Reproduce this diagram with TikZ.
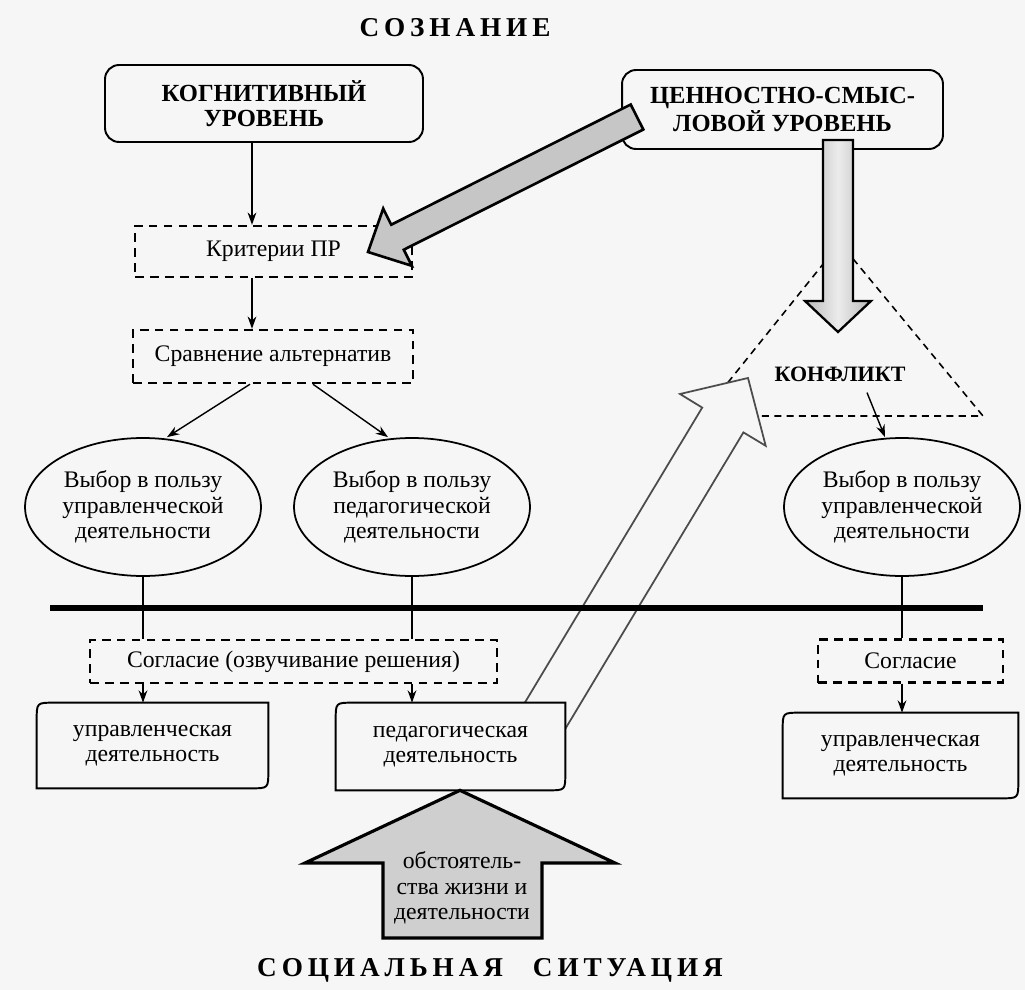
\documentclass[tikz,border=0pt]{standalone}
\usepackage{fontspec}
\setmainfont{Liberation Serif}
\newfontfamily\ttlfont[LetterSpace=18]{Liberation Serif}
\usetikzlibrary{arrows.meta,calc,shapes.geometric}
\definecolor{bgc}{gray}{0.965}
\newcommand\dgbox[1]{\draw[line width=1.1pt] ([yshift=-10pt]#1.north west) .. controls (#1.north west) .. ([xshift=10pt]#1.north west) -- (#1.north east) -- ([yshift=10pt]#1.south east) .. controls (#1.south east) .. ([xshift=-10pt]#1.south east) -- (#1.south west) -- cycle;}
\begin{document}
\begin{tikzpicture}[x=0.02cm,y=-0.02cm,
 txt/.style={font=\fontsize{13.5}{14.5}\selectfont, align=center},
 topbox/.style={draw, line width=1.1pt, rounded corners=8pt, fill=bgc, inner sep=0pt, align=center, font=\fontsize{14}{14.5}\selectfont\bfseries},
 dbox/.style={txt, draw, line width=1.4pt, dash pattern=on 5pt off 3.5pt, fill=bgc, inner sep=0pt},
 ellbox/.style={txt, draw, ellipse, line width=1pt, fill=bgc, minimum width=4.72cm, minimum height=2.76cm, inner sep=0pt},
 lowbox/.style={txt, fill=bgc, inner sep=0pt},
 conn/.style={line width=0.8pt},
 arr/.style={conn, -{Stealth[length=7pt,width=5pt]}},
 ttl/.style={font=\fontsize{15.5}{16}\selectfont\ttlfont\bfseries},
 grayarrow/.style={line width=1.5pt, fill=gray!45},
]
\useasboundingbox (0,0) rectangle (1025,990);
\fill[bgc] (0,0) rectangle (1025,990);

% titles
\node[ttl] (tsoz) at (455,28) {СОЗНАНИЕ};
\node[ttl] (tsoc) at (490,970) {СОЦИАЛЬНАЯ\hspace{1.1em}СИТУАЦИЯ};

% conflict triangle
\coordinate (ta) at (840,243);
\coordinate (tb) at (701,416);
\coordinate (tc) at (983,416);
\draw[line width=0.9pt, dash pattern=on 4pt off 3pt] (ta) -- (tb) -- (tc) -- cycle;
\node[font=\fontsize{12.5}{13}\selectfont\bfseries] (konf) at (840,374) {КОНФЛИКТ};

% hollow arrow
\draw[line width=1pt, draw=black!70, fill=bgc] (516.8,716) -- (702.2,407.6) -- (680,394) -- (748,378) -- (765.7,445.8) -- (743.4,432.4) -- (558,741) -- cycle;

% top boxes
\node[topbox, minimum width=6.36cm, minimum height=1.54cm] (kog) at (264,103.5) {КОГНИТИВНЫЙ\\УРОВЕНЬ};
\node[topbox, minimum width=6.42cm, minimum height=1.58cm] (cen) at (782.5,109.5) {ЦЕННОСТНО-СМЫС-\\ЛОВОЙ УРОВЕНЬ};

% dashed boxes
\node[dbox, minimum width=5.54cm, minimum height=1.02cm] (krit) at (273.5,251.5) {Критерии ПР};
\node[dbox, minimum width=5.6cm, minimum height=1.06cm] (srav) at (273,356.5) {Сравнение альтернатив};

% ellipses
\node[ellbox] (e1) at (143,507) {Выбор в пользу\\управленческой\\деятельности};
\node[ellbox] (e2) at (412,507) {Выбор в пользу\\педагогической\\деятельности};
\node[ellbox] (e3) at (902,507) {Выбор в пользу\\управленческой\\деятельности};

% thick line
\coordinate (hl1) at (50,608);
\coordinate (hl2) at (983,608);
\draw[line width=3.4pt] (hl1) -- (hl2);

% agreement boxes
\node[dbox, minimum width=8.14cm, minimum height=0.86cm] (sogl) at (293.5,661.5) {Согласие (озвучивание решения)};
\node[dbox, minimum width=3.7cm, minimum height=0.86cm] (sogr) at (910.5,661) {Согласие};

% lower boxes
\node[lowbox, minimum width=4.62cm, minimum height=1.7cm] (ul) at (152.5,745.5) {управленческая\\деятельность};
\dgbox{ul}
\node[lowbox, minimum width=4.58cm, minimum height=1.74cm] (ped) at (450.5,746.5) {педагогическая\\деятельность};
\dgbox{ped}
\node[lowbox, minimum width=4.7cm, minimum height=1.7cm] (ur) at (900.5,755.5) {управленческая\\деятельность};
\dgbox{ur}

% connectors
\coordinate (ax) at (252,0);
\draw[arr] (kog.south -| ax) -- (krit.north -| ax);
\draw[arr] (krit.south -| ax) -- (srav.north -| ax);
\draw[arr] ([xshift=-0.46cm]srav.south) -- ([xshift=0.48cm]e1.north);
\draw[arr] ([xshift=0.8cm]srav.south) -- ([xshift=-0.48cm]e2.north);
\draw[conn] (e1.south) -- (e1.south |- sogl.north);
\draw[conn] (e2.south) -- (e2.south |- sogl.north);
\draw[arr] (sogl.south -| e1.south) -- (ul.north -| e1.south);
\draw[arr] (sogl.south -| e2.south) -- (ped.north -| e2.south);
\draw[conn] (e3.south) -- (e3.south |- sogr.north);
\draw[arr] (sogr.south -| e3.south) -- (ur.north -| e3.south);
\draw[arr] ([xshift=0.54cm,yshift=-0.1cm]konf.south) -- ([xshift=-0.34cm]e3.north);

% gray arrows
\draw[line width=1.3pt, shading=axis, left color=gray!55, right color=gray!55, middle color=gray!15] (823,140) -- (823,301) -- (805,301) -- (838,332) -- (871,301) -- (853,301) -- (853,140) -- cycle;
\draw[grayarrow] (630.7,104.5) -- (391.2,224.7) -- (383.2,208.6) -- (368,252) -- (411.8,265.8) -- (403.8,249.7) -- (643.3,129.5) -- cycle;

% bottom arrow
\draw[line width=1.8pt, fill=gray!38] (383,938) -- (383,863) -- (305,863) -- ([xshift=0.19cm]ped.south) -- (615,863) -- (542,863) -- (542,938) -- cycle;
\node[txt] (obst) at (462,888) {обстоятель-\\ства жизни и\\деятельности};
\end{tikzpicture}
\end{document}
